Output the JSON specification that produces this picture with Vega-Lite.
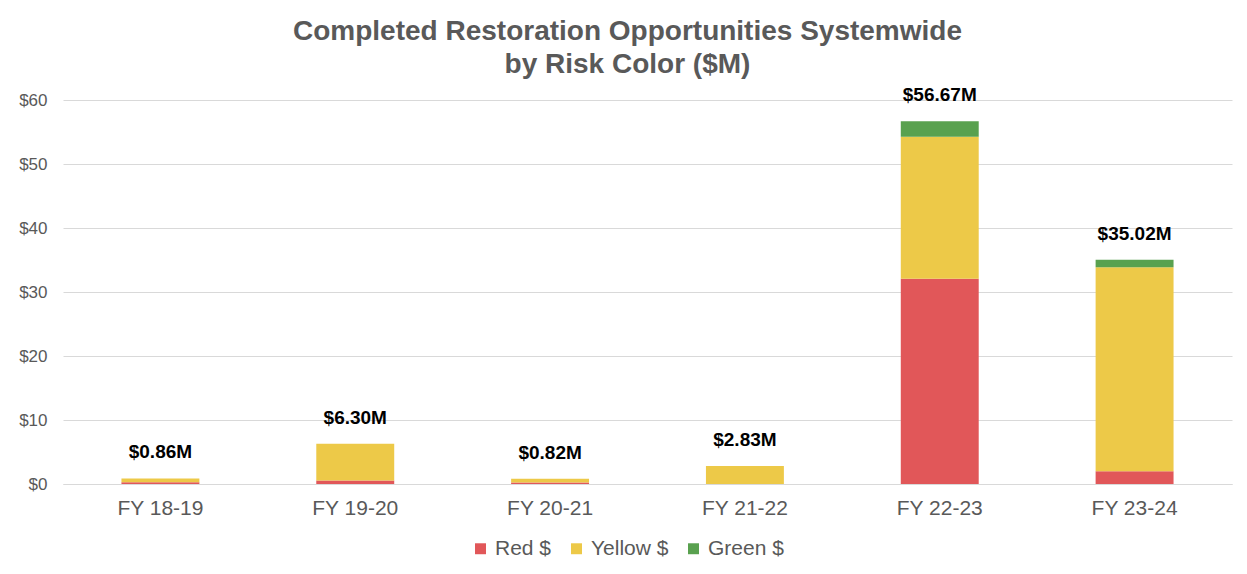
{
  "$schema": "https://vega.github.io/schema/vega-lite/v6.json",
  "autosize": "none",
  "width": 1169,
  "height": 384,
  "padding": {"left": 63, "top": 100, "right": 15, "bottom": 90},
  "background": "white",
  "title": {
    "text": ["Completed Restoration Opportunities Systemwide", "by Risk Color ($M)"],
    "font": "Liberation Sans",
    "fontSize": 28,
    "fontWeight": "bold",
    "color": "#595959",
    "lineHeight": 33,
    "anchor": "middle",
    "frame": "group",
    "offset": 7,
    "dx": -20
  },
  "datasets": {
    "segments": [
      {"year": "FY 18-19", "risk": "Red $", "value": 0.27},
      {"year": "FY 18-19", "risk": "Yellow $", "value": 0.59},
      {"year": "FY 18-19", "risk": "Green $", "value": 0},
      {"year": "FY 19-20", "risk": "Red $", "value": 0.55},
      {"year": "FY 19-20", "risk": "Yellow $", "value": 5.75},
      {"year": "FY 19-20", "risk": "Green $", "value": 0},
      {"year": "FY 20-21", "risk": "Red $", "value": 0.25},
      {"year": "FY 20-21", "risk": "Yellow $", "value": 0.57},
      {"year": "FY 20-21", "risk": "Green $", "value": 0},
      {"year": "FY 21-22", "risk": "Red $", "value": 0},
      {"year": "FY 21-22", "risk": "Yellow $", "value": 2.83},
      {"year": "FY 21-22", "risk": "Green $", "value": 0},
      {"year": "FY 22-23", "risk": "Red $", "value": 32.08},
      {"year": "FY 22-23", "risk": "Yellow $", "value": 22.19},
      {"year": "FY 22-23", "risk": "Green $", "value": 2.40},
      {"year": "FY 23-24", "risk": "Red $", "value": 2.00},
      {"year": "FY 23-24", "risk": "Yellow $", "value": 31.86},
      {"year": "FY 23-24", "risk": "Green $", "value": 1.16}
    ],
    "totals": [
      {"year": "FY 18-19", "total": 0.86, "label": "$0.86M"},
      {"year": "FY 19-20", "total": 6.30, "label": "$6.30M"},
      {"year": "FY 20-21", "total": 0.82, "label": "$0.82M"},
      {"year": "FY 21-22", "total": 2.83, "label": "$2.83M"},
      {"year": "FY 22-23", "total": 56.67, "label": "$56.67M"},
      {"year": "FY 23-24", "total": 35.02, "label": "$35.02M"}
    ]
  },
  "encoding": {
    "x": {
      "field": "year",
      "type": "nominal",
      "sort": null,
      "scale": {"paddingInner": 0.6, "paddingOuter": 0.3},
      "axis": {
        "title": null,
        "labelAngle": 0,
        "ticks": false,
        "domainColor": "#d9d9d9",
        "domainWidth": 1,
        "labelFont": "Liberation Sans",
        "labelFontSize": 21,
        "labelColor": "#595959",
        "labelPadding": 13
      }
    }
  },
  "layer": [
    {
      "data": {"name": "segments"},
      "transform": [
        {"calculate": "indexof(['Red $', 'Yellow $', 'Green $'], datum.risk)", "as": "stackOrder"}
      ],
      "mark": {"type": "bar"},
      "encoding": {
        "y": {
          "field": "value",
          "type": "quantitative",
          "stack": "zero",
          "scale": {"domain": [0, 60], "nice": false},
          "axis": {
            "title": null,
            "values": [0, 10, 20, 30, 40, 50, 60],
            "format": "$d",
            "domain": false,
            "ticks": false,
            "gridColor": "#d9d9d9",
            "gridWidth": 1,
            "labelFont": "Liberation Sans",
            "labelFontSize": 17,
            "labelColor": "#595959",
            "labelPadding": 16
          }
        },
        "order": {"field": "stackOrder", "type": "quantitative", "sort": "ascending"},
        "color": {
          "field": "risk",
          "type": "nominal",
          "sort": ["Red $", "Yellow $", "Green $"],
          "scale": {
            "domain": ["Red $", "Yellow $", "Green $"],
            "range": ["#E15759", "#EDC948", "#59A14F"]
          },
          "legend": {
            "title": null,
            "orient": "none",
            "legendX": 407,
            "legendY": 438,
            "direction": "horizontal",
            "symbolType": "square",
            "symbolSize": 120,
            "symbolStrokeWidth": 0,
            "labelFont": "Liberation Sans",
            "labelFontSize": 21,
            "labelColor": "#595959",
            "columnPadding": 14,
            "labelOffset": 4
          }
        }
      }
    },
    {
      "data": {"name": "totals"},
      "mark": {
        "type": "text",
        "font": "Liberation Sans",
        "fontSize": 19,
        "fontWeight": "bold",
        "color": "#000000",
        "baseline": "bottom",
        "dy": -16
      },
      "encoding": {
        "y": {"field": "total", "type": "quantitative"},
        "text": {"field": "label", "type": "nominal"}
      }
    }
  ],
  "config": {
    "view": {"stroke": null}
  }
}
